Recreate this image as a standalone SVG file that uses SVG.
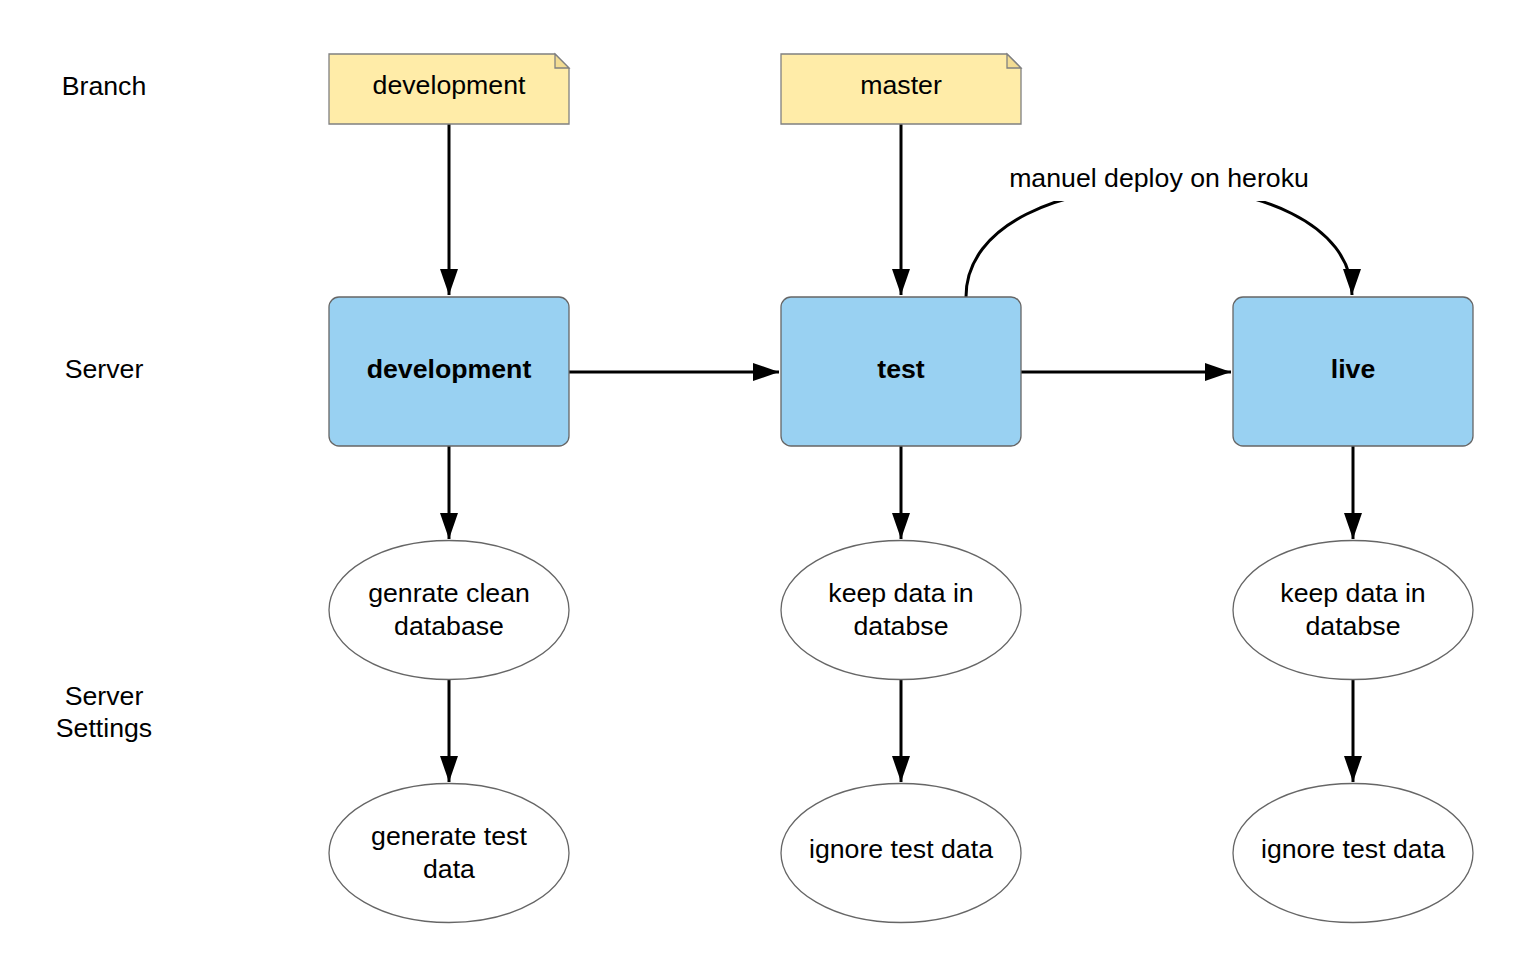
<svg xmlns="http://www.w3.org/2000/svg" width="1536" height="977" viewBox="0 0 1536 977">
<style>
text{font-family:"Liberation Sans",Arial,sans-serif;font-size:26.7px;fill:#000;text-anchor:middle}
.b{font-weight:bold}
.note{fill:#FFECA8;stroke:#808080;stroke-width:1.3}
.fold{fill:#F2DC93;stroke:#808080;stroke-width:1.3}
.srv{fill:#99D1F2;stroke:#666;stroke-width:1.3}
.ell{fill:#fff;stroke:#666;stroke-width:1.3}
.c{fill:none;stroke:#000;stroke-width:3}
</style>
<defs>
<marker id="ah" viewBox="0 0 26 18" refX="26" refY="9" markerWidth="26" markerHeight="18" markerUnits="userSpaceOnUse" orient="auto">
<path d="M0,0 L26,9 L0,18 Z" fill="#000"/>
</marker>
</defs>
<rect width="1536" height="977" fill="#fff"/>
<g id="labels">
<text x="104" y="95">Branch</text>
<text x="104" y="378">Server</text>
<text x="104" y="705">Server</text>
<text x="104" y="737">Settings</text>
</g>
<g id="connectors">
<path class="c" d="M449,124 V295" marker-end="url(#ah)"/>
<path class="c" d="M901,124 V295" marker-end="url(#ah)"/>
<path class="c" d="M569,372 H779" marker-end="url(#ah)"/>
<path class="c" d="M1021,372 H1231" marker-end="url(#ah)"/>
<path class="c" d="M449,446 V539" marker-end="url(#ah)"/>
<path class="c" d="M901,446 V539" marker-end="url(#ah)"/>
<path class="c" d="M1353,446 V539" marker-end="url(#ah)"/>
<path class="c" d="M449,680 V782" marker-end="url(#ah)"/>
<path class="c" d="M901,680 V782" marker-end="url(#ah)"/>
<path class="c" d="M1353,680 V782" marker-end="url(#ah)"/>
<path class="c" d="M966,297 C966,150 1352,150 1352,295" marker-end="url(#ah)"/>
<rect x="1000" y="158" width="318" height="43" fill="#fff"/>
<text x="1159" y="187">manuel deploy on heroku</text>
</g>
<g id="branch-development">
<path class="note" d="M329,54 H555 L569,68 V124 H329 Z"/>
<path class="fold" d="M555,54 V68 H569 Z"/>
<text x="449" y="94">development</text>
</g>
<g id="branch-master">
<path class="note" d="M781,54 H1007 L1021,68 V124 H781 Z"/>
<path class="fold" d="M1007,54 V68 H1021 Z"/>
<text x="901" y="94">master</text>
</g>
<g id="server-development">
<rect class="srv" x="329" y="297" width="240" height="149" rx="10"/>
<text class="b" x="449" y="378">development</text>
</g>
<g id="server-test">
<rect class="srv" x="781" y="297" width="240" height="149" rx="10"/>
<text class="b" x="901" y="378">test</text>
</g>
<g id="server-live">
<rect class="srv" x="1233" y="297" width="240" height="149" rx="10"/>
<text class="b" x="1353" y="378">live</text>
</g>
<g id="dev-clean-db">
<ellipse class="ell" cx="449" cy="610" rx="120" ry="69.5"/>
<text x="449" y="602">genrate clean</text>
<text x="449" y="635">database</text>
</g>
<g id="test-keep-data">
<ellipse class="ell" cx="901" cy="610" rx="120" ry="69.5"/>
<text x="901" y="602">keep data in</text>
<text x="901" y="635">databse</text>
</g>
<g id="live-keep-data">
<ellipse class="ell" cx="1353" cy="610" rx="120" ry="69.5"/>
<text x="1353" y="602">keep data in</text>
<text x="1353" y="635">databse</text>
</g>
<g id="dev-test-data">
<ellipse class="ell" cx="449" cy="853" rx="120" ry="69.5"/>
<text x="449" y="845">generate test</text>
<text x="449" y="878">data</text>
</g>
<g id="test-ignore">
<ellipse class="ell" cx="901" cy="853" rx="120" ry="69.5"/>
<text x="901" y="858">ignore test data</text>
</g>
<g id="live-ignore">
<ellipse class="ell" cx="1353" cy="853" rx="120" ry="69.5"/>
<text x="1353" y="858">ignore test data</text>
</g>
</svg>
